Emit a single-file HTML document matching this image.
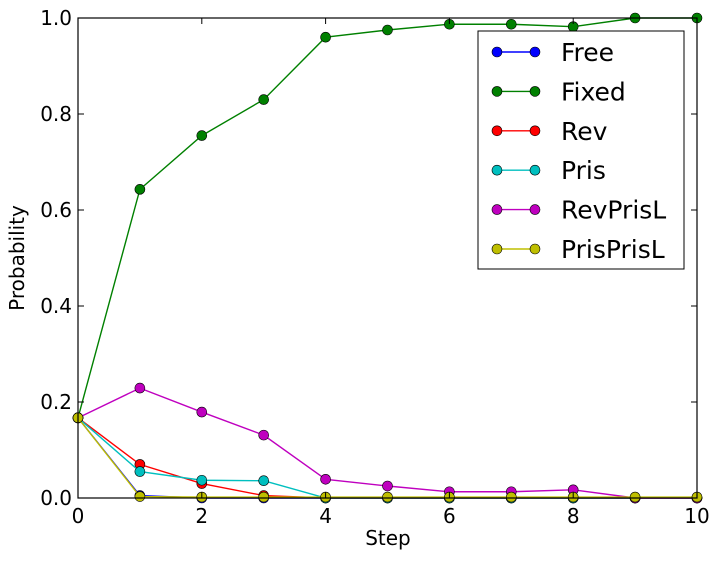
<!DOCTYPE html>
<html><head><meta charset="utf-8"><style>
body{margin:0;background:#fff;}
text{font-family:"DejaVu Sans","Liberation Sans",sans-serif;}
</style></head><body>
<svg id="chart" width="720" height="560" xmlns="http://www.w3.org/2000/svg">
</svg>
<script>
const steps = [0,1,2,3,4,5,6,7,8,9,10];
const seriesNames = ["Free","Fixed","Rev","Pris","RevPrisL","PrisPrisL"];
const seriesColors = ["#0000ff","#008000","#ff0000","#00bfbf","#bf00bf","#bfbf00"];
const freeVals = [0.167,0.005,0,0,0,0,0,0,0,0,0];
const fixedVals = [0.167,0.643,0.755,0.83,0.96,0.975,0.987,0.987,0.982,1.0,1.0];
const revVals = [0.167,0.07,0.03,0.005,0,0,0,0,0,0,0];
const prisVals = [0.167,0.055,0.037,0.036,0,0,0,0,0,0,0];
const revPrisLVals = [0.167,0.229,0.179,0.131,0.039,0.025,0.013,0.013,0.017,0,0];
const prisPrisLVals = [0.167,0.003,0.002,0.002,0.002,0.002,0.002,0.002,0.002,0.002,0.002];
const xTicks = [0,2,4,6,8,10];
const yTicks = [0,0.2,0.4,0.6,0.8,1.0];
const yTickLabels = ["0.0","0.2","0.4","0.6","0.8","1.0"];

const allVals = [freeVals,fixedVals,revVals,prisVals,revPrisLVals,prisPrisLVals];
const L=78,R=697,T=18,B=498;
const sx = v => L + (v-0)/(10-0)*(R-L);
const sy = v => B - (v-0)/(1-0)*(B-T);
const NS="http://www.w3.org/2000/svg";
const svg=document.getElementById('chart');
function mk(tag,attrs,parent){const e=document.createElementNS(NS,tag);for(const k in attrs)e.setAttribute(k,attrs[k]);(parent||svg).appendChild(e);return e;}

const series = mk('g',{});


allVals.forEach((vals,i)=>{
  const g=mk('g',{},series);
  
  
  const pts=vals.map((v,j)=>sx(steps[j])+','+sy(v)).join(' ');
  mk('polyline',{points:pts,fill:'none',stroke:seriesColors[i],'stroke-width':1.4},g);
  vals.forEach((v,j)=>{
    const c=mk('circle',{cx:sx(steps[j]),cy:sy(v),r:5,fill:seriesColors[i],stroke:'#000','stroke-width':0.6},g);
    
    
  });
});

const frame=mk('rect',{x:L,y:T,width:R-L,height:B-T,fill:'none',stroke:'#000','stroke-width':1.2});



xTicks.forEach(t=>{
  const x=sx(t);
  mk('line',{x1:x,x2:x,y1:B,y2:B-6,stroke:'#000'});
  mk('line',{x1:x,x2:x,y1:T,y2:T+6,stroke:'#000'});
  const tx=mk('text',{x:x,y:B+25,'font-size':20,'text-anchor':'middle'});
  tx.textContent=t;
  
  
});
yTicks.forEach((t,i)=>{
  const y=sy(t);
  mk('line',{x1:L,x2:L+6,y1:y,y2:y,stroke:'#000'});
  mk('line',{x1:R,x2:R-6,y1:y,y2:y,stroke:'#000'});
  const tx=mk('text',{x:L-6,y:y+7,'font-size':20,'text-anchor':'end'});
  tx.textContent=yTickLabels[i];
  
  
});
const xt=mk('text',{x:388,y:545,'font-size':20,'text-anchor':'middle'});
xt.textContent='Step';


const yt=mk('text',{x:0,y:0,'font-size':20,'text-anchor':'middle',transform:'translate(24,258) rotate(-90)'});
yt.textContent='Probability';



const lg=mk('g',{});


mk('rect',{x:478,y:31,width:206,height:238,fill:'#fff',stroke:'#000','stroke-width':1},lg);
seriesNames.forEach((n,i)=>{
  const y=52+i*39.4;
  const e=mk('g',{},lg);
  
  
  mk('line',{x1:497,x2:535,y1:y,y2:y,stroke:seriesColors[i],'stroke-width':1.4},e);
  mk('circle',{cx:497,cy:y,r:5,fill:seriesColors[i],stroke:'#000','stroke-width':0.6},e);
  mk('circle',{cx:535,cy:y,r:5,fill:seriesColors[i],stroke:'#000','stroke-width':0.6},e);
  const t=mk('text',{x:561,y:y+9,'font-size':25},e);
  t.textContent=n;
});
</script>
</body></html>
